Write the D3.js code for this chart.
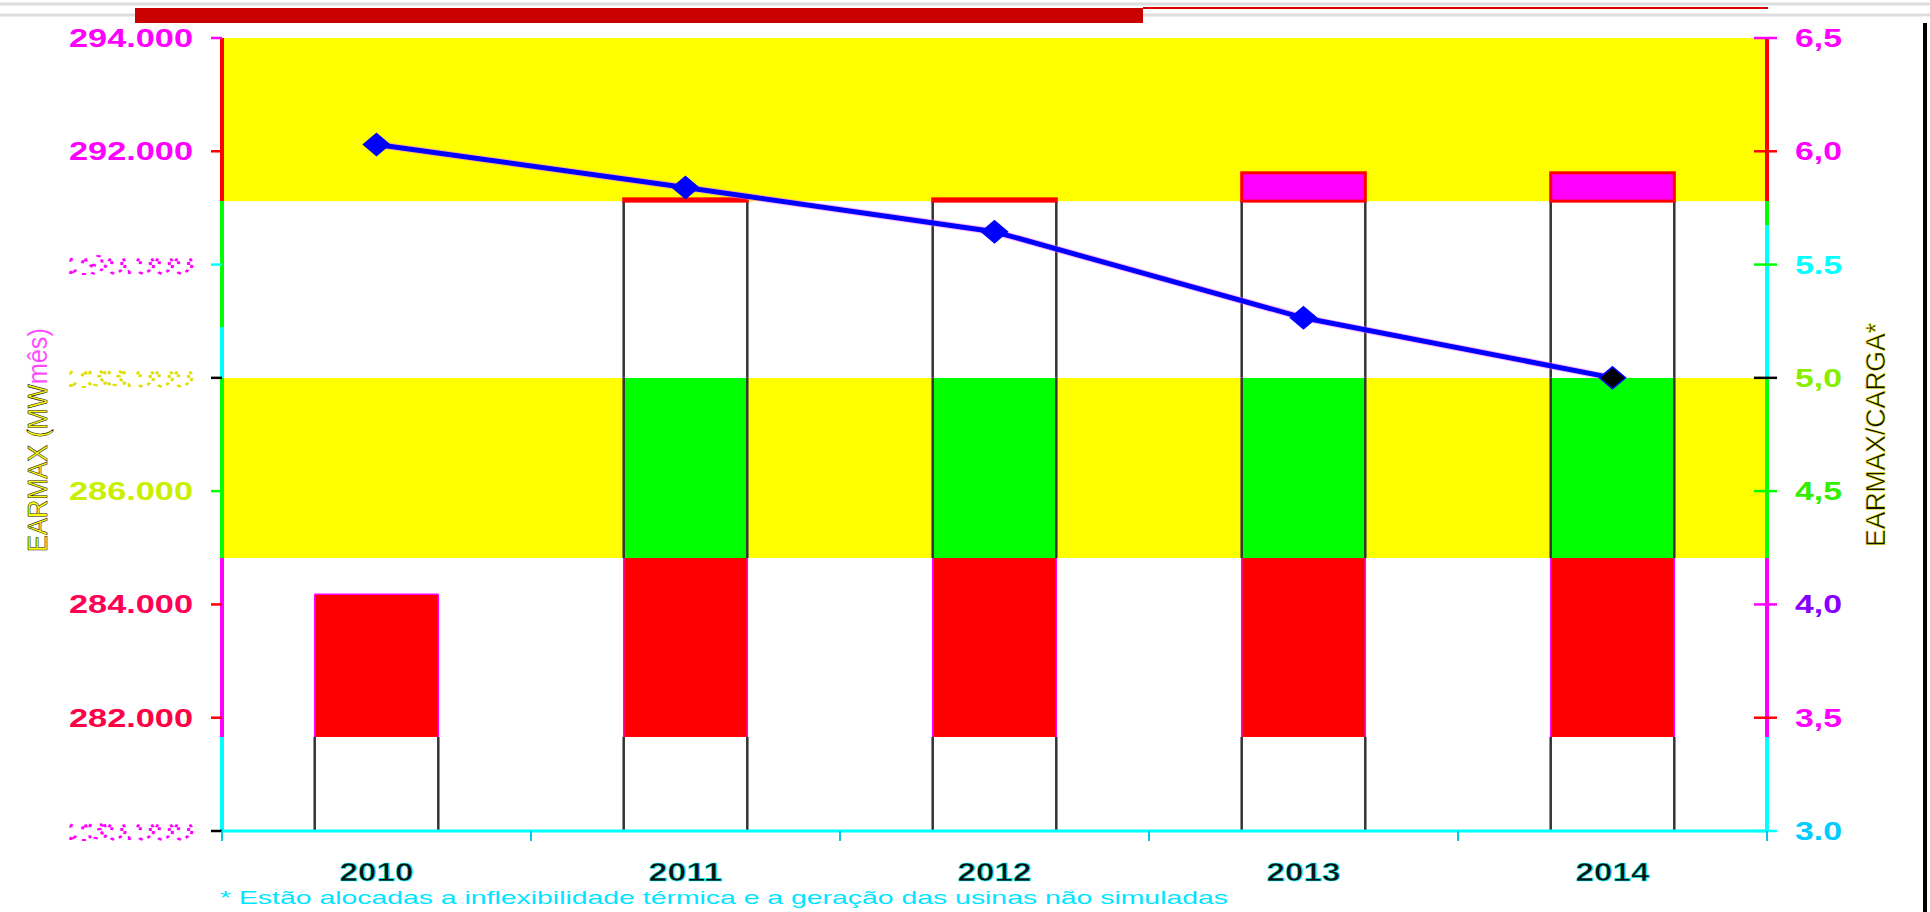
<!DOCTYPE html>
<html>
<head>
<meta charset="utf-8">
<script src="https://cdn.jsdelivr.net/npm/d3@7"></script>
<style>
  body { margin: 0; background: #fff; }
  svg { display: block; font-family: "Liberation Sans", Arial, sans-serif; }
</style>
</head>
<body>
<svg id="chart" width="1930" height="912"></svg>
<script>
// data
var years = ['2010', '2011', '2012', '2013', '2014'];
var earmax = [284180, 291160, 291160, 291620, 291620];      // MWmês, bars
var earmaxCarga = [6.03, 5.84, 5.645, 5.265, 5.0];         // line, right axis
var zoneLimits = [280000, 281660, 284820, 288000, 291120, 294000];
var leftTicks = [280000, 282000, 284000, 286000, 288000, 290000, 292000, 294000];
var leftTickLabels = ['280.000', '282.000', '284.000', '286.000', '288.000', '290.000', '292.000', '294.000'];
var rightTicks = [3.0, 3.5, 4.0, 4.5, 5.0, 5.5, 6.0, 6.5];
var rightTickLabels = ['3.0', '3,5', '4,0', '4,5', '5,0', '5.5', '6,0', '6,5'];

// zone colours (bottom to top)
var bgColors = ['#ffffff', '#ffffff', '#ffff00', '#ffffff', '#ffff00'];
var barColors = ['#ffffff', '#ff0000', '#00ff00', '#ffffff', '#ff00ff'];
var sideColors = ['#333333', '#ff00ff', '#333333', '#333333', '#ff0000'];
var axisColors = ['#00ffff', '#ff00ff', '#00ff00', '#00ffff', '#ff0000'];

var leftLabelColors = ['#ff00ff', '#ff0044', '#ff0055', '#c8f000', '#e0e000', '#ff00ff', '#ff00ff', '#ff00ff'];
var leftFaint = [true, false, false, false, true, true, false, false];
var leftTickColors = ['#000', '#ff0000', '#ff0000', '#00ff00', '#000', '#00ffff', '#ff0000', '#ff00ff'];
var rightLabelColors = ['#00ccff', '#ff00ff', '#8800ff', '#33ee00', '#88ee00', '#00ffff', '#ff00ff', '#ff00ff'];
var rightTickColors = ['#00ffff', '#ff0000', '#ff00ff', '#00ff00', '#000', '#00ff00', '#ff0000', '#ff00ff'];

var svg = d3.select('#chart');
var plotLeft = 222, plotRight = 1767, plotTop = 38, plotBottom = 831;

var x = d3.scaleBand().domain(years).range([plotLeft, plotRight]).paddingInner(0).paddingOuter(0);
var y = d3.scaleLinear().domain([280000, 294000]).range([plotBottom, plotTop]);
var y2 = d3.scaleLinear().domain([3.0, 6.5]).range([plotBottom, plotTop]);

// page decoration at the top
svg.append('line').attr('x1', 0).attr('x2', 1930).attr('y1', 4).attr('y2', 4)
  .attr('stroke', '#dddddd').attr('stroke-width', 3);
svg.append('line').attr('x1', 0).attr('x2', 1930).attr('y1', 15).attr('y2', 15)
  .attr('stroke', '#dddddd').attr('stroke-width', 3);
svg.append('rect').attr('x', 135).attr('y', 8).attr('width', 1008).attr('height', 15)
  .attr('fill', '#c80000');
svg.append('line').attr('x1', 1143).attr('x2', 1768).attr('y1', 8).attr('y2', 8)
  .attr('stroke', '#dd0000').attr('stroke-width', 2);
svg.append('line').attr('x1', 1925).attr('x2', 1925).attr('y1', 23).attr('y2', 912)
  .attr('stroke', '#000').attr('stroke-width', 4);

// background bands
var zones = d3.range(bgColors.length).map(function(i) {
  return { lo: zoneLimits[i], hi: zoneLimits[i + 1], i: i };
});
svg.selectAll('rect.band')
  .data(zones)
  .enter()
  .append('rect')
  .attr('class', 'band')
  .attr('x', plotLeft)
  .attr('width', plotRight - plotLeft)
  .attr('y', function(d) { return y(d.hi); })
  .attr('height', function(d) { return y(d.lo) - y(d.hi); })
  .attr('fill', function(d) { return bgColors[d.i]; });

// bars, split by zone
var barW = x.bandwidth() * 0.4;
var segs = [];
years.forEach(function(yr, j) {
  zones.forEach(function(z) {
    if (earmax[j] > z.lo) {
      segs.push({ year: yr, lo: z.lo, hi: Math.min(z.hi, earmax[j]), i: z.i });
    }
  });
});
var segG = svg.selectAll('g.seg')
  .data(segs)
  .enter()
  .append('g')
  .attr('class', 'seg');
segG.append('rect')
  .attr('x', function(d) { return x(d.year) + (x.bandwidth() - barW) / 2; })
  .attr('width', barW)
  .attr('y', function(d) { return y(d.hi); })
  .attr('height', function(d) { return y(d.lo) - y(d.hi); })
  .attr('fill', function(d) { return barColors[d.i]; })
  .attr('stroke', function(d) { return d.i === 4 ? '#ff0000' : 'none'; })
  .attr('stroke-width', 3);
[0, 1].forEach(function(side) {
  segG.filter(function(d) { return d.i !== 4; })
    .append('line')
    .attr('x1', function(d) { return x(d.year) + (x.bandwidth() - barW) / 2 + side * barW; })
    .attr('x2', function(d) { return x(d.year) + (x.bandwidth() - barW) / 2 + side * barW; })
    .attr('y1', function(d) { return y(d.hi); })
    .attr('y2', function(d) { return y(d.lo); })
    .attr('stroke', function(d) { return sideColors[d.i]; })
    .attr('stroke-width', function(d) { return d.i === 1 ? 1.5 : 2.5; });
});
// thin magenta top edge on the short 2010 bar
svg.selectAll('line.topedge')
  .data(years.filter(function(yr, j) { return earmax[j] < zoneLimits[2]; }))
  .enter()
  .append('line')
  .attr('class', 'topedge')
  .attr('x1', function(d) { return x(d) + (x.bandwidth() - barW) / 2; })
  .attr('x2', function(d) { return x(d) + (x.bandwidth() + barW) / 2; })
  .attr('y1', function(d) { return y(earmax[years.indexOf(d)]); })
  .attr('y2', function(d) { return y(earmax[years.indexOf(d)]); })
  .attr('stroke', '#ff00ff').attr('stroke-width', 1.5);

// axis lines, coloured by zone
[plotLeft, plotRight].forEach(function(ax) {
  svg.selectAll(null)
    .data(zones)
    .enter()
    .append('line')
    .attr('x1', ax).attr('x2', ax)
    .attr('y1', function(d) { return y(d.hi); })
    .attr('y2', function(d) { return y(d.lo); })
    .attr('stroke', function(d) { return axisColors[d.i]; })
    .attr('stroke-width', 4);
  svg.append('line')
    .attr('x1', ax).attr('x2', ax)
    .attr('y1', y(zoneLimits[4])).attr('y2', y(zoneLimits[4]) + (ax === plotLeft ? 126 : 24))
    .attr('stroke', '#00ff00').attr('stroke-width', 4);
});

// left ticks and labels
leftTicks.forEach(function(v, i) {
  svg.append('line')
    .attr('x1', plotLeft - 11).attr('x2', plotLeft)
    .attr('y1', y(v)).attr('y2', y(v))
    .attr('stroke', leftTickColors[i]).attr('stroke-width', 2.5);
  var t = svg.append('text')
    .attr('x', 193).attr('y', y(v) + 9)
    .attr('text-anchor', 'end')
    .attr('font-size', 25)
    .attr('font-weight', 'bold')
    .attr('textLength', 124)
    .attr('lengthAdjust', 'spacingAndGlyphs')
    .text(leftTickLabels[i]);
  if (leftFaint[i]) {
    // washed-out labels in the original: drawn as sparse dots
    t.attr('fill', 'none').attr('stroke', leftLabelColors[i]).attr('font-weight', 'normal')
      .attr('stroke-width', 2.2).attr('stroke-dasharray', '3,11');
  } else {
    t.attr('fill', leftLabelColors[i]);
  }
});

// right ticks and labels
rightTicks.forEach(function(v, i) {
  svg.append('line')
    .attr('x1', plotRight - 13).attr('x2', plotRight + 10)
    .attr('y1', y2(v)).attr('y2', y2(v))
    .attr('stroke', rightTickColors[i]).attr('stroke-width', 2.5);
  svg.append('text')
    .attr('x', 1795).attr('y', y2(v) + 9)
    .attr('font-size', 25)
    .attr('font-weight', 'bold')
    .attr('textLength', 47)
    .attr('lengthAdjust', 'spacingAndGlyphs')
    .attr('fill', rightLabelColors[i])
    .text(rightTickLabels[i]);
});

// x axis
svg.append('line')
  .attr('x1', plotLeft).attr('x2', plotRight).attr('y1', plotBottom).attr('y2', plotBottom)
  .attr('stroke', '#00ffff').attr('stroke-width', 3);
svg.selectAll('line.xtick')
  .data(years.concat(['end']))
  .enter()
  .append('line')
  .attr('class', 'xtick')
  .attr('x1', function(d) { return d === 'end' ? plotRight : x(d); })
  .attr('x2', function(d) { return d === 'end' ? plotRight : x(d); })
  .attr('y1', plotBottom).attr('y2', plotBottom + 10)
  .attr('stroke', '#00ccdd').attr('stroke-width', 2);
svg.selectAll('text.xlab')
  .data(years)
  .enter()
  .append('text')
  .attr('class', 'xlab')
  .attr('x', function(d) { return x(d) + x.bandwidth() / 2; })
  .attr('y', 881)
  .attr('text-anchor', 'middle')
  .attr('font-size', 25)
  .attr('font-weight', 'bold')
  .attr('textLength', 74)
  .attr('lengthAdjust', 'spacingAndGlyphs')
  .attr('fill', '#111')
  .attr('stroke', '#00ffff')
  .attr('stroke-width', 0.6)
  .text(function(d) { return d; });

// line EARMAX/CARGA
var pts = years.map(function(yr, j) {
  return [x(yr) + x.bandwidth() / 2, y2(earmaxCarga[j])];
});
svg.append('path')
  .attr('d', d3.line()(pts))
  .attr('fill', 'none')
  .attr('stroke', '#ff66ff')
  .attr('stroke-width', 7)
  .attr('opacity', 0.5);
svg.append('path')
  .attr('d', d3.line()(pts))
  .attr('fill', 'none')
  .attr('stroke', '#0000ff')
  .attr('stroke-width', 5);
svg.selectAll('path.marker')
  .data(pts)
  .enter()
  .append('path')
  .attr('class', 'marker')
  .attr('transform', function(d) { return 'translate(' + d[0] + ',' + d[1] + ')'; })
  .attr('d', 'M0,-11L13,0L0,11L-13,0Z')
  .attr('fill', function(d, i) { return i === pts.length - 1 ? '#000' : '#0000ff'; })
  .attr('stroke', '#0000ff')
  .attr('stroke-width', 1.5);

// axis titles
svg.append('text')
  .attr('transform', 'translate(47,440) rotate(-90)')
  .attr('text-anchor', 'middle')
  .attr('font-size', 27)
  .attr('textLength', 224)
  .attr('lengthAdjust', 'spacingAndGlyphs')
  .call(function(t) {
    t.append('tspan').attr('fill', '#ffff00').attr('stroke', '#222').attr('stroke-width', 0.6).text('EARMAX (MW');
    t.append('tspan').attr('fill', '#ff00ff').attr('opacity', 0.7).text('mês)');
  });
svg.append('text')
  .attr('transform', 'translate(1885,435) rotate(-90)')
  .attr('text-anchor', 'middle')
  .attr('font-size', 27)
  .attr('textLength', 224)
  .attr('lengthAdjust', 'spacingAndGlyphs')
  .attr('fill', '#111')
  .attr('stroke', '#ffff00')
  .attr('stroke-width', 0.5)
  .text('EARMAX/CARGA*');

// footnote
svg.append('text')
  .attr('x', 220).attr('y', 904)
  .attr('font-size', 19)
  .attr('textLength', 1008)
  .attr('lengthAdjust', 'spacingAndGlyphs')
  .attr('fill', '#00e5ff')
  .text('* Estão alocadas a inflexibilidade térmica e a geração das usinas não simuladas');
</script>
</body>
</html>
